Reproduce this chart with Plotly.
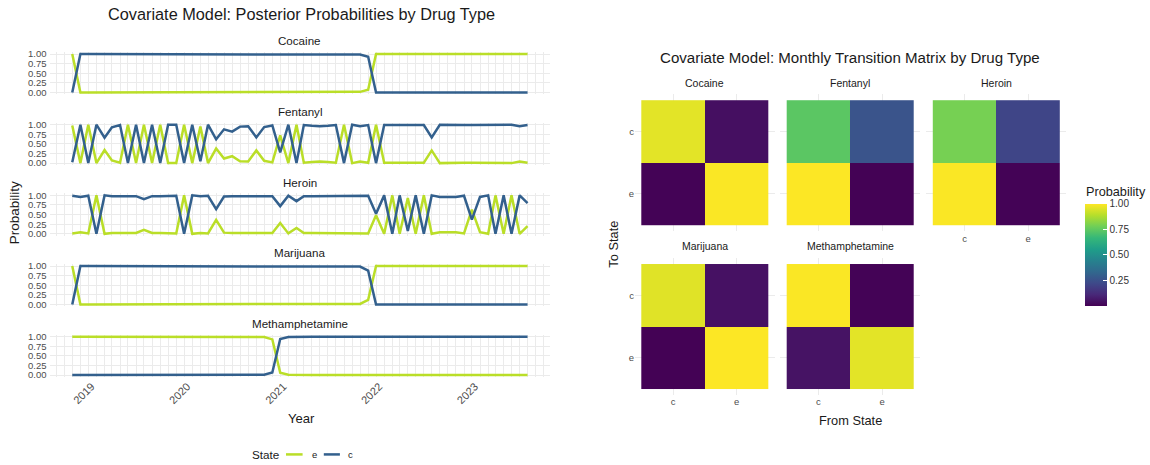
import pandas as pd
import plotly.graph_objects as go

W, H = 1150, 465
FONT = "Liberation Sans, Arial, Helvetica, sans-serif"

# ---------------- data ----------------
MONTHS = pd.date_range("2018-10-01", periods=58, freq="MS")

DRUGS = ["Cocaine", "Fentanyl", "Heroin", "Marijuana", "Methamphetamine"]

COCAINE_C = [
    0.00, 1.00, 1.00, 1.00, 1.00, 1.00, 1.00, 1.00, 1.00, 1.00, 1.00, 1.00,
    1.00, 1.00, 1.00, 1.00, 1.00, 1.00, 1.00, 1.00, 1.00, 1.00, 1.00, 1.00,
    1.00, 1.00, 1.00, 1.00, 1.00, 1.00, 1.00, 1.00, 1.00, 1.00, 1.00, 1.00,
    0.985, 0.93, 0.00, 0.00, 0.00, 0.00, 0.00, 0.00, 0.00, 0.00, 0.00, 0.00,
    0.00, 0.00, 0.00, 0.00, 0.00, 0.00, 0.00, 0.00, 0.00, 0.00,
]
COCAINE_E = [
    1.00, 0.00, 0.00, 0.00, 0.00, 0.00, 0.00, 0.00, 0.00, 0.00, 0.00, 0.00,
    0.00, 0.00, 0.00, 0.00, 0.00, 0.00, 0.00, 0.00, 0.00, 0.00, 0.00, 0.00,
    0.00, 0.00, 0.00, 0.00, 0.00, 0.00, 0.00, 0.00, 0.00, 0.00, 0.00, 0.00,
    0.015, 0.07, 1.00, 1.00, 1.00, 1.00, 1.00, 1.00, 1.00, 1.00, 1.00, 1.00,
    1.00, 1.00, 1.00, 1.00, 1.00, 1.00, 1.00, 1.00, 1.00, 1.00,
]
FENTANYL_C = [
    0.02, 1.00, 0.00, 1.00, 0.66, 0.93, 0.99, 0.00, 1.00, 0.00, 1.00, 0.00,
    1.00, 1.00, 0.00, 1.00, 0.05, 1.00, 0.62, 0.88, 0.82, 0.95, 0.96, 0.67,
    0.94, 0.98, 0.28, 1.00, 0.00, 0.99, 0.97, 0.96, 0.97, 0.99, 0.00, 1.00,
    0.96, 0.99, 0.00, 0.99, 0.99, 0.985, 0.99, 0.99, 0.99, 0.67, 1.00, 0.99,
    0.99, 0.99, 0.99, 0.995, 0.995, 1.00, 1.00, 1.00, 0.96, 0.99,
]
FENTANYL_E = [
    0.98, 0.00, 1.00, 0.00, 0.34, 0.07, 0.01, 1.00, 0.00, 1.00, 0.00, 1.00,
    0.00, 0.00, 1.00, 0.00, 0.95, 0.00, 0.38, 0.12, 0.18, 0.05, 0.04, 0.33,
    0.06, 0.02, 0.72, 0.00, 1.00, 0.01, 0.03, 0.04, 0.03, 0.01, 1.00, 0.00,
    0.04, 0.01, 1.00, 0.01, 0.01, 0.015, 0.01, 0.01, 0.01, 0.33, 0.00, 0.01,
    0.01, 0.01, 0.01, 0.005, 0.005, 0.00, 0.00, 0.00, 0.04, 0.01,
]
HEROIN_C = [
    0.99, 0.96, 0.99, 0.00, 1.00, 0.98, 0.98, 0.98, 0.98, 0.90, 0.98, 0.98,
    0.98, 0.99, 0.00, 1.00, 0.98, 0.99, 0.64, 0.97, 0.98, 0.98, 0.98, 0.98,
    0.98, 0.98, 0.72, 0.99, 0.85, 0.98, 0.98, 0.98, 0.98, 0.98, 0.98, 0.98,
    0.98, 0.99, 0.52, 1.00, 0.00, 1.00, 0.07, 1.00, 0.00, 1.00, 0.96, 0.96,
    0.96, 0.99, 0.37, 0.96, 1.00, 0.00, 1.00, 0.00, 1.00, 0.80,
]
HEROIN_E = [
    0.01, 0.04, 0.01, 1.00, 0.00, 0.02, 0.02, 0.02, 0.02, 0.10, 0.02, 0.02,
    0.02, 0.01, 1.00, 0.00, 0.02, 0.01, 0.36, 0.03, 0.02, 0.02, 0.02, 0.02,
    0.02, 0.02, 0.28, 0.01, 0.15, 0.02, 0.02, 0.02, 0.02, 0.02, 0.02, 0.02,
    0.02, 0.01, 0.48, 0.00, 1.00, 0.00, 0.93, 0.00, 1.00, 0.00, 0.04, 0.04,
    0.04, 0.01, 0.63, 0.04, 0.00, 1.00, 0.00, 1.00, 0.00, 0.20,
]
MARIJUANA_C = [
    0.00, 1.00, 1.00, 1.00, 1.00, 1.00, 1.00, 1.00, 1.00, 1.00, 1.00, 1.00,
    1.00, 1.00, 1.00, 1.00, 1.00, 1.00, 1.00, 1.00, 1.00, 1.00, 1.00, 1.00,
    1.00, 1.00, 1.00, 1.00, 1.00, 1.00, 1.00, 1.00, 1.00, 1.00, 1.00, 1.00,
    0.985, 0.88, 0.00, 0.00, 0.00, 0.00, 0.00, 0.00, 0.00, 0.00, 0.00, 0.00,
    0.00, 0.00, 0.00, 0.00, 0.00, 0.00, 0.00, 0.00, 0.00, 0.00,
]
MARIJUANA_E = [
    1.00, 0.00, 0.00, 0.00, 0.00, 0.00, 0.00, 0.00, 0.00, 0.00, 0.00, 0.00,
    0.00, 0.00, 0.00, 0.00, 0.00, 0.00, 0.00, 0.00, 0.00, 0.00, 0.00, 0.00,
    0.00, 0.00, 0.00, 0.00, 0.00, 0.00, 0.00, 0.00, 0.00, 0.00, 0.00, 0.00,
    0.015, 0.12, 1.00, 1.00, 1.00, 1.00, 1.00, 1.00, 1.00, 1.00, 1.00, 1.00,
    1.00, 1.00, 1.00, 1.00, 1.00, 1.00, 1.00, 1.00, 1.00, 1.00,
]
METH_C = [
    0.00, 0.00, 0.00, 0.00, 0.00, 0.00, 0.00, 0.00, 0.00, 0.00, 0.00, 0.00,
    0.00, 0.00, 0.00, 0.00, 0.00, 0.00, 0.00, 0.00, 0.00, 0.00, 0.00, 0.00,
    0.01, 0.07, 0.94, 0.99, 1.00, 1.00, 1.00, 1.00, 1.00, 1.00, 1.00, 1.00,
    1.00, 1.00, 1.00, 1.00, 1.00, 1.00, 1.00, 1.00, 1.00, 1.00, 1.00, 1.00,
    1.00, 1.00, 1.00, 1.00, 1.00, 1.00, 1.00, 1.00, 1.00, 1.00,
]
METH_E = [
    1.00, 1.00, 1.00, 1.00, 1.00, 1.00, 1.00, 1.00, 1.00, 1.00, 1.00, 1.00,
    1.00, 1.00, 1.00, 1.00, 1.00, 1.00, 1.00, 1.00, 1.00, 1.00, 1.00, 1.00,
    0.99, 0.93, 0.06, 0.01, 0.00, 0.00, 0.00, 0.00, 0.00, 0.00, 0.00, 0.00,
    0.00, 0.00, 0.00, 0.00, 0.00, 0.00, 0.00, 0.00, 0.00, 0.00, 0.00, 0.00,
    0.00, 0.00, 0.00, 0.00, 0.00, 0.00, 0.00, 0.00, 0.00, 0.00,
]

SERIES_C = {"Cocaine": COCAINE_C, "Fentanyl": FENTANYL_C, "Heroin": HEROIN_C,
            "Marijuana": MARIJUANA_C, "Methamphetamine": METH_C}
SERIES_E = {"Cocaine": COCAINE_E, "Fentanyl": FENTANYL_E, "Heroin": HEROIN_E,
            "Marijuana": MARIJUANA_E, "Methamphetamine": METH_E}

STATES = ["c", "e"]          # From State (x) and To State (y) categories
LEGEND_STATES = ["e", "c"]
# rows: To State c, e ; cols: From State c, e
TRANS = {
    "Cocaine":         [[0.96, 0.04], [0.005, 0.995]],
    "Fentanyl":        [[0.74, 0.26], [0.998, 0.002]],
    "Heroin":          [[0.79, 0.21], [0.995, 0.005]],
    "Marijuana":       [[0.955, 0.045], [0.002, 0.998]],
    "Methamphetamine": [[0.995, 0.005], [0.05, 0.96]],
}
CB_TICKS = [0.25, 0.50, 0.75, 1.00]
Y_TICKS = [0.00, 0.25, 0.50, 0.75, 1.00]

# ---------------- styling ----------------
STATE_COLORS = {"e": "#BADE28", "c": "#33608D"}
GRID = "#EBEBEB"
TICK_COL = "#4D4D4D"
TXT = "#1A1A1A"


def fx(p):
    return p / W


def fy(p):
    return 1 - p / H


fig = go.Figure()
layout = {}
annotations = []
shapes = []

span = MONTHS[-1] - MONTHS[0]
x_lo = MONTHS[0] - span * 0.05
x_hi = MONTHS[-1] + span * 0.05

PX_L, PX_R = 49.5, 550.3
for i, drug in enumerate(DRUGS):
    n = i + 1
    xa = "x" if n == 1 else f"x{n}"
    ya = "y" if n == 1 else f"y{n}"
    top1 = 50.8 + 71.75 * i
    zero = top1 + 39.0
    p0, p1 = top1 - 1.95, zero + 1.95
    for st, vals in (("e", SERIES_E[drug]), ("c", SERIES_C[drug])):
        fig.add_trace(go.Scatter(x=MONTHS, y=vals, mode="lines", name=st,
                                 legendgroup=st, showlegend=False,
                                 line=dict(color=STATE_COLORS[st], width=2.5),
                                 xaxis=xa, yaxis=ya))
    layout["xaxis" if n == 1 else f"xaxis{n}"] = dict(
        domain=[fx(PX_L), fx(PX_R)], range=[x_lo, x_hi], type="date",
        anchor=ya, showticklabels=(i == 4), tickangle=-45,
        dtick="M12", tick0="2019-01-01", tickformat="%Y",
        tickfont=dict(size=11, color=TICK_COL, family=FONT),
        ticklabelshift=-5,
        showgrid=True, gridcolor=GRID, gridwidth=1,
        minor=dict(dtick="M1", showgrid=True, gridcolor=GRID, gridwidth=0.6),
        zeroline=False, showline=False, ticks="",
    )
    layout["yaxis" if n == 1 else f"yaxis{n}"] = dict(
        domain=[fy(p1), fy(p0)], range=[-0.05, 1.05], anchor=xa,
        tickvals=Y_TICKS, ticktext=[f"{v:.2f}" for v in Y_TICKS],
        tickfont=dict(size=9.5, color=TICK_COL, family=FONT),
        showgrid=True, gridcolor=GRID, gridwidth=1,
        zeroline=False, showline=False, ticks="", ticklabelstandoff=2,
    )
    annotations.append(dict(text=drug, x=fx((PX_L + PX_R) / 2), y=fy(p0 - 11.5),
                            xref="paper", yref="paper", showarrow=False,
                            xanchor="center", yanchor="middle",
                            font=dict(size=11.6, color=TXT, family=FONT)))

# ---------------- heatmaps ----------------
UNIT_W, UNIT_H = 63.55, 63.3
HM_POS = {
    "Cocaine": (641.3, 97.7, True, False),
    "Fentanyl": (786.7, 97.7, False, False),
    "Heroin": (932.8, 97.7, False, True),
    "Marijuana": (641.3, 264.0, True, True),
    "Methamphetamine": (786.7, 264.0, False, True),
}
for j, drug in enumerate(DRUGS):
    n = 6 + j
    xa, ya = f"x{n}", f"y{n}"
    left, top, show_y, show_x = HM_POS[drug]
    fig.add_trace(go.Heatmap(x=STATES, y=STATES, z=TRANS[drug],
                             coloraxis="coloraxis", xaxis=xa, yaxis=ya,
                             hovertemplate="From %{x} to %{y}: %{z:.3f}<extra></extra>"))
    d_l = left - 0.1 * UNIT_W
    d_r = left + 2.1 * UNIT_W
    d_t = top - 0.1 * UNIT_H
    d_b = top + 2.1 * UNIT_H
    layout[f"xaxis{n}"] = dict(
        domain=[fx(d_l), fx(d_r)], range=[-0.6, 1.6], type="category",
        categoryorder="array", categoryarray=STATES, anchor=ya,
        showticklabels=show_x, tickfont=dict(size=9.5, color=TICK_COL, family=FONT),
        showgrid=True, gridcolor=GRID, gridwidth=1, zeroline=False,
        showline=False, ticks="",
    )
    layout[f"yaxis{n}"] = dict(
        domain=[fy(d_b), fy(d_t)], range=[1.6, -0.6], type="category",
        categoryorder="array", categoryarray=STATES, anchor=xa,
        showticklabels=show_y, tickfont=dict(size=9.5, color=TICK_COL, family=FONT),
        showgrid=True, gridcolor=GRID, gridwidth=1, zeroline=False,
        showline=False, ticks="",
    )
    annotations.append(dict(text=drug, x=fx(left + UNIT_W), y=fy(top - 18.0),
                            xref="paper", yref="paper", showarrow=False,
                            xanchor="center", yanchor="middle",
                            font=dict(size=10.5, color=TXT, family=FONT)))

# ---------------- titles ----------------
def ann(text, x, y, size, angle=0, color=TXT, xanchor="center"):
    annotations.append(dict(text=text, x=fx(x), y=fy(y), xref="paper", yref="paper",
                            showarrow=False, xanchor=xanchor, yanchor="middle",
                            textangle=angle,
                            font=dict(size=size, color=color, family=FONT)))


ann("Covariate Model: Posterior Probabilities by Drug Type", 301, 9.8, 16.3)
ann("Covariate Model: Monthly Transition Matrix by Drug Type", 850, 54.0, 15.1)
ann("Probability", 14.4, 212, 13.5, angle=-90)
ann("Year", 301, 420.5, 13.1)
ann("From State", 850.2, 422.5, 12.8)
ann("To State", 613.3, 244, 12.8, angle=-90)
ann("Probability", 1083.5, 190.5, 12.7, xanchor="left")

# ---------------- legend (State) ----------------
LEG_Y = 457.3
ann("State", 249.5, LEG_Y, 11.7, xanchor="left")
for st, (l0, l1, tx) in zip(LEGEND_STATES, [(286.0, 302.6, 309.5), (323.8, 339.9, 346.0)]):
    shapes.append(dict(type="line", xref="paper", yref="paper",
                       x0=fx(l0), x1=fx(l1), y0=fy(LEG_Y), y1=fy(LEG_Y),
                       line=dict(color=STATE_COLORS[st], width=2.5)))
    ann(st, tx, LEG_Y, 9.5, xanchor="left")

layout["coloraxis"] = dict(
    colorscale="Viridis", cmin=0.0, cmax=1.0,
    colorbar=dict(x=fx(1084.6), xanchor="left", y=fy(202.7), yanchor="top",
                  len=102.3, lenmode="pixels", thickness=21.6, thicknessmode="pixels",
                  xpad=0, ypad=0, outlinewidth=0,
                  tickvals=CB_TICKS, ticktext=[f"{v:.2f}" for v in CB_TICKS],
                  ticks="inside", ticklen=4, tickcolor="white", tickwidth=1,
                  tickfont=dict(size=10, color="#333333", family=FONT)),
)

fig.update_layout(
    width=W, height=H,
    margin=dict(l=0, r=0, t=0, b=0),
    paper_bgcolor="white", plot_bgcolor="white",
    font=dict(family=FONT, color=TXT),
    showlegend=False,
    annotations=annotations,
    shapes=shapes,
    **layout,
)

fig.write_html("out.html",
               config={"displayModeBar": False},
               post_script="document.body.style.margin='0px';"
                           "document.body.style.overflow='hidden';")
